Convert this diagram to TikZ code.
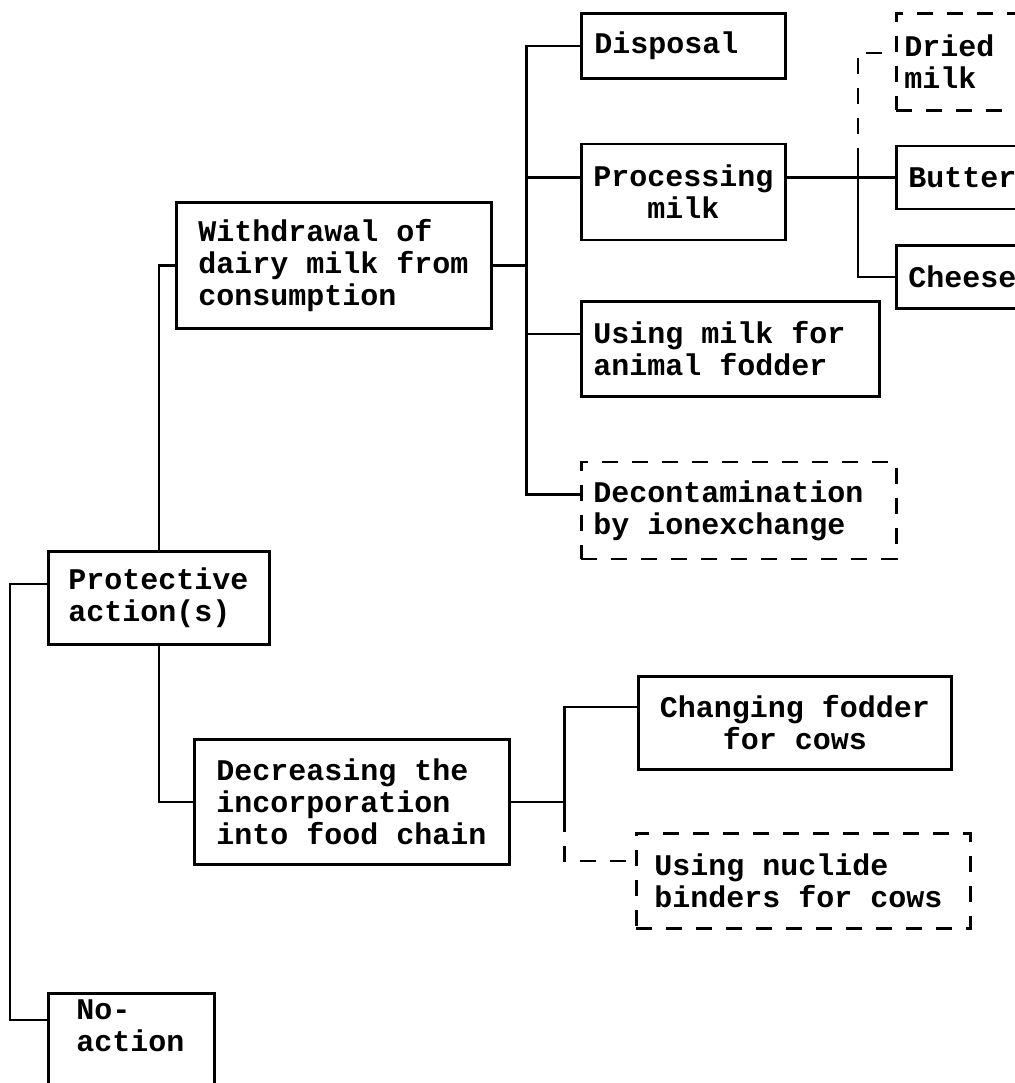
\documentclass[tikz,border=0pt]{standalone}
\usepackage{fontspec}
\setmonofont{Liberation Mono}
\usetikzlibrary{positioning}

\begin{document}
\begin{tikzpicture}[x=1pt,y=-1pt,
    box/.style={draw,line width=1.3pt,anchor=north west,align=left,inner ysep=0pt,
      font=\ttfamily\bfseries\fontsize{15}{16}\selectfont,
      execute at begin node={\spaceskip=9pt\xspaceskip=9pt}},
    maybe/.style={box,dash pattern=on 8pt off 7pt},
    link/.style={line width=1.3pt},
    maybelink/.style={link,dash pattern=on 8pt off 7pt}]

    \useasboundingbox (0,0) rectangle (507.5,541.5);
    \clip (0,0) rectangle (507.5,541.5);

    \node[box,minimum height=46.5pt,inner xsep=10pt,text width=90.5pt] (prot) at (23.5,275) {Protective\\action(s)};
    \node[box,inner xsep=14pt,text width=55pt,text height=11pt,text depth=60pt,inner ysep=2pt] (noact) at (23.5,496) {No-\\action};

    \node[box,minimum height=63pt,inner xsep=11pt,text width=135.5pt] (withdr) at (87.5,100.5) {Withdrawal of\\dairy milk from\\consumption};
    \node[box,minimum height=62.5pt,inner xsep=11pt,text width=135.5pt] (decr) at (96.5,369) {Decreasing the\\incorporation\\into food chain};

    \node[box,minimum height=32.5pt,inner xsep=6.5pt,text width=89pt] (disp) at (290,6) {Disposal};
    \node[box,minimum height=48pt,inner xsep=6pt,text width=90pt,align=center,below=31.5pt of disp.south west,anchor=north west] (procm) {Processing\\milk};
    \node[box,minimum height=47.5pt,inner xsep=6pt,text width=137pt,below=29.5pt of procm.south west,anchor=north west] (fodd) {Using milk for\\animal fodder};
    \node[maybe,minimum height=48.5pt,inner xsep=6pt,text width=145.5pt,below=31.5pt of fodd.south west,anchor=north west] (decon) {Decontamination\\by ionexchange};

    \node[maybe,minimum height=48.5pt,inner xsep=4pt,text width=82pt] (dried) at (447.5,6) {Dried\\milk};
    \node[box,minimum height=31.5pt,inner xsep=6pt,text width=78pt,below=16.5pt of dried.south west,anchor=north west] (butter) {Butter};
    \node[box,minimum height=31.5pt,inner xsep=6pt,text width=78pt,below=17pt of butter.south west,anchor=north west] (cheese) {Cheese};

    \node[box,minimum height=46.5pt,inner xsep=10pt,text width=136.5pt,align=center] (chfod) at (318.5,337.5) {Changing fodder\\for cows};
    \node[maybe,minimum height=47.5pt,inner xsep=9pt,text width=149pt] (binder) at (317.5,416) {Using nuclide\\binders for cows};

    \coordinate (wj) at ([xshift=17pt]withdr.east);
    \coordinate (pj) at (429,0 |- butter.west);
    \coordinate (dj) at ([xshift=27pt]decr.east);
    \coordinate (nl) at (5,510);

    \draw[link] (prot.north) |- (withdr.west);
    \draw[link] (prot.south) |- (decr.west);
    \draw[link] ([yshift=7pt]prot.west) -| (nl) -- (nl -| noact.west);

    \draw[link] (withdr.east) -- (wj);
    \draw[link] (disp.west) -| (wj);
    \draw[link] (wj |- butter.west) -- (procm.west |- butter.west);
    \draw[link] ([yshift=7.5pt]fodd.west) -| (wj);
    \draw[link] ([yshift=8pt]decon.west) -| (wj);

    \draw[link] (procm.east |- butter.west) -- (butter.west);
    \draw[link] ([yshift=6.5pt]pj) |- (cheese.west);
    \draw[maybelink] ([yshift=6.5pt]pj) |- ([yshift=4.5pt]dried.west);

    \draw[link] (decr.east) -- (dj);
    \draw[link] ([yshift=8pt]chfod.west) -| ([yshift=-7.25pt]dj);
    \draw[maybelink] ([yshift=-7.25pt]dj) |- ([yshift=10pt]binder.west);

\end{tikzpicture}
\end{document}
